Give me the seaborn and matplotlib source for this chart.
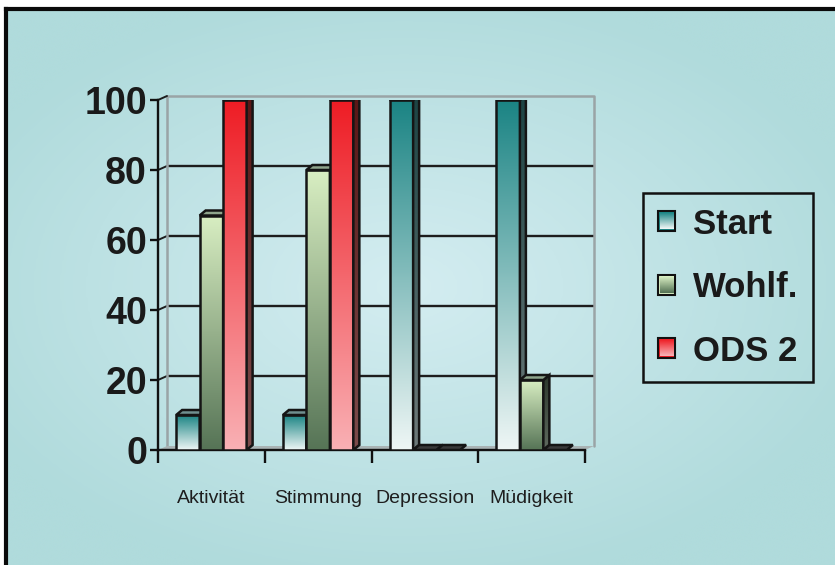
import numpy as np
import pandas as pd
import matplotlib
matplotlib.use("Agg")
import matplotlib.pyplot as plt
from matplotlib.patches import Polygon, Patch
from matplotlib.colors import LinearSegmentedColormap, to_rgb
import seaborn as sns

# ---- data -------------------------------------------------------------
kategorien = ["Aktivität", "Stimmung", "Depression", "Müdigkeit"]
serien = ["Start", "Wohlf.", "ODS 2"]
start = [10, 10, 100, 100]
wohlf = [67, 80, 0, 20]
ods2 = [100, 100, 0, 0]
y_ticks = [0, 20, 40, 60, 80, 100]

rows = []
for s, werte in zip(serien, [start, wohlf, ods2]):
    for k, v in zip(kategorien, werte):
        rows.append({"Kategorie": k, "Serie": s, "Wert": v})
df = pd.DataFrame(rows)

# ---- styling ----------------------------------------------------------
front = {"Start": ("#1b8484", "#eef6f5"),
         "Wohlf.": ("#d8eec2", "#567456"),
         "ODS 2": ("#ee1d25", "#f9b0b4")}
side = {"Start": ("#1c4444", "#6e7a7a"),
        "Wohlf.": ("#2c382c", "#5f6a5f"),
        "ODS 2": ("#5a1616", "#7c4b4b")}
top = {"Start": "#6f8f8f", "Wohlf.": "#8fa58c", "ODS 2": "#4a1c1c"}
edge = "#151515"

sns.set_theme(style="white")
plt.rcParams["font.family"] = ["Liberation Sans", "DejaVu Sans"]

W, H = 835, 565
fig = plt.figure(figsize=(W / 100, H / 100), dpi=100, facecolor="white")

# panel background with a soft radial gradient and a black frame
bg = fig.add_axes([6 / W, 0, 1 - 6 / W, 1 - 9 / H], zorder=-10)
yy, xx = np.mgrid[0:1:300j, 0:1:450j]
r = np.sqrt(((xx - 0.48) / 0.8) ** 2 + ((yy - 0.5) / 0.75) ** 2)
bg_cmap = LinearSegmentedColormap.from_list("bg", ["#d4edf1", "#b0dbdc"])
bg.imshow(r, cmap=bg_cmap, aspect="auto", extent=[0, 1, 0, 1],
          interpolation="bicubic", vmin=0, vmax=0.72)
bg.set_xticks([])
bg.set_yticks([])
for s in ["right", "bottom"]:
    bg.spines[s].set_visible(False)
for s in ["top", "left"]:
    bg.spines[s].set_visible(True)
    bg.spines[s].set_color("#0a0a0a")
    bg.spines[s].set_linewidth(3.0)

# ---- bars -------------------------------------------------------------
ax = fig.add_axes([158 / W, 115 / H, 427 / W, 350 / H])
ax.patch.set_alpha(0)
sns.barplot(data=df, x="Kategorie", y="Wert", hue="Serie", order=kategorien,
            hue_order=serien, palette=[front[s][0] for s in serien],
            width=0.66, edgecolor=edge, linewidth=1.8, legend=False,
            saturation=1, ax=ax)
ax.set_xlim(-0.5, len(kategorien) - 0.5)
ax.set_ylim(0, 100)
xmin, xmax = ax.get_xlim()

px_x = 427 / (xmax - xmin)   # pixels per category unit
px_y = 350 / 100             # pixels per value unit
bdx, bdy = 6 / px_x, 5 / px_y      # bar depth
wdx, wdy = 9 / px_x, 4 / px_y      # back wall offset

grad = np.linspace(0, 1, 128)[:, None]


def fill_gradient(clip, c_top, c_bot, extent, z):
    cm = LinearSegmentedColormap.from_list("", [c_top, c_bot])
    im = ax.imshow(grad, cmap=cm, extent=extent, aspect="auto",
                   origin="upper", zorder=z, interpolation="bilinear",
                   vmin=0, vmax=1)
    im.set_clip_path(clip)
    im.set_clip_on(True)


# back wall, floor and grid lines
floor = Polygon([(xmin, 0), (xmax, 0), (xmax + wdx, wdy), (xmin + wdx, wdy)],
                closed=True, facecolor="#a9b3b4", edgecolor="none", zorder=1.2,
                clip_on=False)
ax.add_patch(floor)
for v in y_ticks[1:-1]:
    ax.plot([xmin + wdx, xmax + wdx], [v + wdy, v + wdy], color="#1d1d1d",
            lw=1.7, zorder=1, clip_on=False, solid_capstyle="butt")
    ax.plot([xmin, xmin + wdx], [v, v + wdy], color="#1d1d1d", lw=1.4,
            zorder=1, clip_on=False)
wall_c = "#9aa4a6"
ax.plot([xmin + wdx, xmin + wdx, xmax + wdx, xmax + wdx],
        [wdy, 100 + wdy, 100 + wdy, wdy], color=wall_c, lw=1.8, zorder=1.1,
        clip_on=False)
ax.plot([xmin, xmin + wdx], [100, 100 + wdy], color="#1d1d1d", lw=1.4,
        zorder=1.1, clip_on=False)

order = 0
for i in range(len(kategorien)):
    for j, s in enumerate(serien):
        p = ax.containers[j][i]
        x0, w, h = p.get_x(), p.get_width(), p.get_height()
        z = 2 + order * 0.1
        order += 1
        p.set_zorder(z + 0.02)
        p.set_facecolor("none")
        if h > 0:
            fill_gradient(p, front[s][0], front[s][1], [x0, x0 + w, 0, h], z)
            sp = Polygon([(x0 + w, 0), (x0 + w, h), (x0 + w + bdx, h + bdy),
                          (x0 + w + bdx, bdy)], closed=True,
                         facecolor="none", edgecolor=edge, lw=1.8,
                         zorder=z + 0.04)
            ax.add_patch(sp)
            fill_gradient(sp, side[s][0], side[s][1],
                          [x0 + w, x0 + w + bdx, 0, h + bdy], z + 0.03)
        tp = Polygon([(x0, h), (x0 + w, h), (x0 + w + bdx, h + bdy),
                      (x0 + bdx, h + bdy)], closed=True,
                     facecolor=top[s] if h > 0 else "#3a3a3a",
                     edgecolor=edge, lw=1.8, zorder=z + 0.05)
        ax.add_patch(tp)

# ---- axes -------------------------------------------------------------
for s in ["top", "right"]:
    ax.spines[s].set_visible(False)
for s in ["left", "bottom"]:
    ax.spines[s].set_visible(True)
    ax.spines[s].set_color("#111111")
    ax.spines[s].set_linewidth(1.7)
    ax.spines[s].set_zorder(1.5)

ax.set_yticks(y_ticks)
ax.set_yticklabels([str(v) for v in y_ticks], fontsize=27, fontweight="bold",
                   color="#1a1a1a")
ax.set_xticks(range(len(kategorien)))
ax.set_xticklabels(kategorien, fontsize=14, color="#1e1e1e")
ax.set_xticks(np.arange(len(kategorien) + 1) - 0.5, minor=True)
ax.tick_params(axis="y", which="major", left=True, length=6, width=1.7,
               color="#111111", pad=2)
ax.tick_params(axis="x", which="major", bottom=True, length=0, pad=29)
ax.tick_params(axis="x", which="minor", bottom=True, length=9, width=1.7,
               color="#111111")
ax.set_xlabel("")
ax.set_ylabel("")
ax.grid(False)

# ---- legend -----------------------------------------------------------
handles = [Patch(facecolor=front[s][0], edgecolor="#111111", lw=1.5)
           for s in serien]
leg = ax.legend(handles=handles, labels=serien, loc="upper left",
                bbox_to_anchor=(643 / W, 1 - 193 / H),
                bbox_transform=fig.transFigure, frameon=True, fancybox=False,
                borderaxespad=0, prop={"size": 25, "weight": "bold"},
                handlelength=0.5, handleheight=0.5, handletextpad=0.52,
                labelspacing=0.88, borderpad=0.42)
frame = leg.get_frame()
frame.set_facecolor("none")
frame.set_edgecolor("#111111")
frame.set_alpha(None)
frame.set_linewidth(1.8)
for t in leg.get_texts():
    t.set_color("#1a1a1a")

fig.canvas.draw()
renderer = fig.canvas.get_renderer()
for p, s in zip(leg.get_patches(), serien):
    bb = p.get_window_extent(renderer)
    xo, yo = int(round(bb.x0)) + 2, int(round(bb.y0)) + 2
    gw, gh = int(round(bb.width)) - 3, int(round(bb.height)) - 3
    c0, c1 = np.array(to_rgb(front[s][0])), np.array(to_rgb(front[s][1]))
    t = np.linspace(0, 1, gh)[:, None, None]
    arr = np.broadcast_to(c0 * (1 - t) + c1 * t, (gh, gw, 3)).copy()
    fig.figimage(arr, xo, yo, origin="upper", zorder=20)

fig.savefig("out.png", dpi=100)
